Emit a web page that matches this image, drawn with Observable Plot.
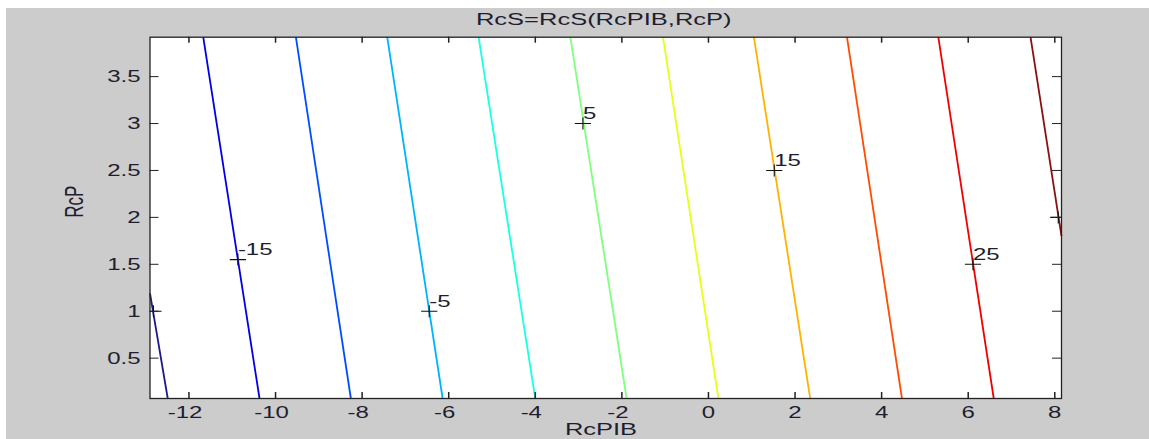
<!DOCTYPE html>
<html><head><meta charset="utf-8">
<script src="https://cdn.jsdelivr.net/npm/d3@7"></script>
<script src="https://cdn.jsdelivr.net/npm/@observablehq/plot@0.6"></script>
<style>
body{margin:0;background:#fff;}
#chart{position:absolute;left:6px;top:8px;}
</style></head><body><div id="chart"></div>
<script>
// ---- data ----
const title = "RcS=RcS(RcPIB,RcP)";
const xLabel = "RcPIB";
const yLabel = "RcP";
const xTicks = [-12, -10, -8, -6, -4, -2, 0, 2, 4, 6, 8];
const yTicks = [0.5, 1, 1.5, 2, 2.5, 3, 3.5];
const levels = [-20, -15, -10, -5, 0, 5, 10, 15, 20, 25, 30];
// each contour segment: upper end (x1,y1) -> lower end (x2,y2)
const lineX1 = [-12.9, -11.67, -9.53, -7.42, -5.31, -3.19, -1.05, 1.05, 3.20, 5.31, 7.44];
const lineY1 = [1.19, 3.92, 3.92, 3.92, 3.92, 3.92, 3.92, 3.92, 3.92, 3.92, 3.92];
const lineX2 = [-12.49, -10.37, -8.26, -6.14, -4.00, -1.89, 0.23, 2.35, 4.47, 6.59, 8.155];
const lineY2 = [0.07, 0.07, 0.07, 0.07, 0.07, 0.07, 0.07, 0.07, 0.07, 0.07, 1.80];
const labelText = ["-15", "-5", "5", "15", "25"];
const labelX = [-10.87, -6.45, -2.90, 1.52, 6.11];
const labelY = [1.55, 1.0, 3.0, 2.5, 1.5];
const markerX = [-12.82, -10.87, -6.45, -2.90, 1.52, 6.11, 8.08];
const markerY = [1.0, 1.55, 1.0, 3.0, 2.5, 1.5, 2.0];

// ---- styling ----
const jet = ["#1a1a8c", "#0000e6", "#004dff", "#00b3ff", "#1affe6", "#80ff80",
             "#e6ff1a", "#ffb300", "#ff4d00", "#f20000", "#8a1010"];
const textColor = "#1e1e30";
const W = 1143, H = 431;
const mL = 143.5, mR = 88, mT = 28.7, mB = 41;
const plotW = W - mL - mR, plotH = H - mT - mB;
const xDomain = [-12.9, 8.155], yDomain = [0.07, 3.92];

const contours = levels.map((level, i) => ({level, x1: lineX1[i], y1: lineY1[i], x2: lineX2[i], y2: lineY2[i]}));
const labels = labelText.map((t, i) => ({t, x: labelX[i], y: labelY[i]}));
const markers = markerX.map((x, i) => ({x, y: markerY[i]}));

const plusSymbol = {
  draw(ctx, size) {
    const r = Math.sqrt(size / Math.PI);
    ctx.moveTo(-r * 1.35, 0); ctx.lineTo(r * 1.35, 0);
    ctx.moveTo(0, -r); ctx.lineTo(0, r);
  }
};

const svg = Plot.plot({
  width: W, height: H,
  marginLeft: mL, marginRight: mR, marginTop: mT, marginBottom: mB,
  style: "background:#cccccc;overflow:visible;max-width:none;font-family:'Liberation Sans',Arial,sans-serif;",
  x: {domain: xDomain, axis: null},
  y: {domain: yDomain, axis: null},
  color: {type: "ordinal", domain: levels, range: jet},
  marks: [
    Plot.frame({fill: "white", stroke: null}),
    Plot.link(contours, {x1: "x1", y1: "y1", x2: "x2", y2: "y2", stroke: "level", strokeWidth: 1.8}),
    Plot.dot(markers, {x: "x", y: "y", symbol: plusSymbol, r: 6, stroke: "#111", fill: "none", strokeWidth: 1.1, clip: true}),
    Plot.text(labels, {x: "x", y: "y", text: "t", textAnchor: "start", lineAnchor: "bottom", dy: -4.4, fontSize: 16, fill: textColor}),
    Plot.tickX(xTicks, {x: d => d, insetTop: plotH - 6, stroke: "#222", strokeWidth: 1.5}),
    Plot.tickX(xTicks, {x: d => d, insetBottom: plotH - 6, stroke: "#222", strokeWidth: 1.5}),
    Plot.tickY(yTicks, {y: d => d, insetRight: plotW - 9, stroke: "#222", strokeWidth: 1}),
    Plot.tickY(yTicks, {y: d => d, insetLeft: plotW - 9, stroke: "#222", strokeWidth: 1}),
    Plot.frame({stroke: "#222", strokeWidth: 1.3}),
    Plot.text(xTicks.filter(d => d < 0), {x: d => d, text: d => "-" + Math.abs(d), frameAnchor: "bottom", dy: 14.3, dx: -4, fontSize: 16, lineAnchor: "middle", fill: textColor}),
    Plot.text(xTicks.filter(d => d >= 0), {x: d => d, text: d => String(d), frameAnchor: "bottom", dy: 14.3, fontSize: 16, lineAnchor: "middle", fill: textColor}),
    Plot.text(yTicks, {y: d => d, text: d => String(d), frameAnchor: "left", textAnchor: "end", dx: -9.5, dy: 0.6, fontSize: 16, lineAnchor: "middle", fill: textColor}),
    Plot.text([title], {text: d => d, frameAnchor: "top", dy: -17.3, dx: -2, fontSize: 17, lineAnchor: "middle", fill: textColor}),
    Plot.text([xLabel], {text: d => d, frameAnchor: "bottom", dy: 31.5, dx: -4.75, fontSize: 17, lineAnchor: "middle", fill: textColor}),
    Plot.text([yLabel], {text: d => d, frameAnchor: "left", dx: -75.5, rotate: -90, fontSize: 17, lineAnchor: "middle", fill: textColor})
  ]
});

// the reference rendering is horizontally stretched: widen glyphs to match
d3.select(svg).selectAll("text").each(function () {
  const t = this.getAttribute("transform") || "";
  this.setAttribute("transform", t + (t.includes("rotate") ? " scale(1,1.5)" : " scale(1.5,1)"));
});

document.getElementById("chart").appendChild(svg);
</script>
</body></html>
